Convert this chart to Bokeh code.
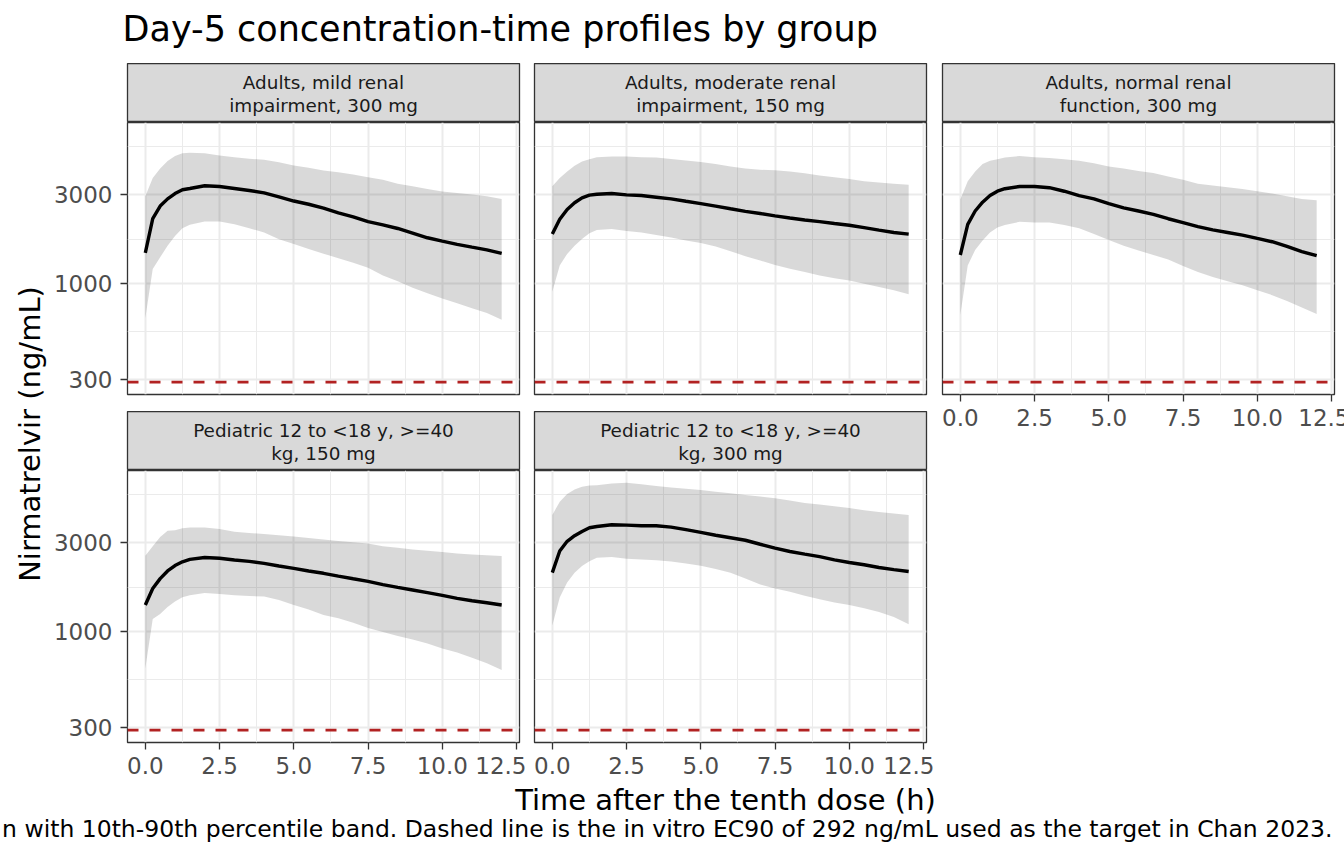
import math
from bokeh.plotting import figure
from bokeh.layouts import row, column
from bokeh.models import Range1d, FixedTicker, PrintfTickFormatter, NumeralTickFormatter, Span, ColumnDataSource
from bokeh.embed import file_html
from bokeh.resources import INLINE
from bokeh.core.properties import value

# ---------------- data ----------------
TITLE = "Day-5 concentration-time profiles by group"
X_LABEL = "Time after the tenth dose (h)"
Y_LABEL = "Nirmatrelvir (ng/mL)"
CAPTION = ("n with 10th-90th percentile band. Dashed line is the in vitro EC90 of 292 ng/mL "
           "used as the target in Chan 2023.")

GROUPS = [
    "Adults, mild renal\nimpairment, 300 mg",
    "Adults, moderate renal\nimpairment, 150 mg",
    "Adults, normal renal\nfunction, 300 mg",
    "Pediatric 12 to <18 y, >=40\nkg, 150 mg",
    "Pediatric 12 to <18 y, >=40\nkg, 300 mg",
]

TIME = [0, 0.25, 0.5, 0.75, 1.0, 1.25, 1.5, 2.0, 2.5, 3.0, 3.5, 4.0, 4.5, 5.0,
        5.5, 6.0, 6.5, 7.0, 7.5, 8.0, 8.5, 9.0, 9.5, 10.0, 10.5, 11.0, 11.5, 12.0]

MED_MILD = [1457, 2232, 2610, 2855, 3050, 3200, 3250, 3360, 3330, 3250, 3170, 3075, 2930, 2780,
            2670, 2545, 2400, 2285, 2150, 2065, 1975, 1865, 1760, 1688, 1620, 1566, 1515, 1449]
P90_MILD = [2950, 3700, 4170, 4580, 4870, 5030, 5060, 5030, 4890, 4790, 4710, 4640, 4500, 4330,
            4200, 4065, 3980, 3870, 3740, 3620, 3450, 3340, 3230, 3130, 3070, 3010, 2950, 2850]
P10_MILD = [646, 1195, 1380, 1594, 1801, 1982, 2066, 2155, 2155, 2080, 1980, 1880, 1730, 1630,
            1530, 1444, 1365, 1290, 1210, 1101, 1024, 945, 882, 827, 779, 733, 690, 634]

MED_MOD = [1842, 2213, 2503, 2720, 2890, 2990, 3025, 3050, 3000, 2975, 2915, 2855, 2770, 2690,
           2610, 2525, 2445, 2380, 2310, 2250, 2195, 2150, 2100, 2055, 1995, 1935, 1880, 1842]
P90_MOD = [3340, 3700, 4015, 4310, 4540, 4680, 4790, 4830, 4830, 4790, 4770, 4690, 4600, 4520,
           4400, 4270, 4170, 4100, 4070, 4015, 3930, 3820, 3740, 3660, 3550, 3500, 3450, 3400]
P10_MOD = [898, 1245, 1440, 1594, 1732, 1860, 1940, 1960, 1915, 1880, 1820, 1765, 1700, 1650,
           1580, 1488, 1400, 1325, 1255, 1196, 1150, 1101, 1065, 1035, 993, 954, 916, 871]

MED_NORM = [1420, 2080, 2455, 2740, 2975, 3140, 3240, 3330, 3330, 3280, 3140, 2975, 2855, 2690,
            2555, 2455, 2355, 2230, 2125, 2023, 1940, 1880, 1820, 1745, 1675, 1580, 1480, 1408]
P90_NORM = [2830, 3550, 4015, 4410, 4590, 4680, 4770, 4870, 4790, 4750, 4670, 4590, 4450, 4270,
            4170, 4040, 3935, 3775, 3620, 3450, 3370, 3300, 3230, 3140, 3050, 2950, 2850, 2810]
P10_NORM = [674, 1245, 1513, 1700, 1880, 2000, 2065, 2145, 2130, 2130, 2065, 1980, 1845, 1710,
            1594, 1500, 1420, 1342, 1240, 1150, 1080, 1024, 975, 916, 862, 802, 739, 681]

MED_PED150 = [1386, 1702, 1923, 2115, 2264, 2372, 2442, 2500, 2480, 2425, 2385, 2325, 2250, 2185,
              2115, 2055, 1985, 1920, 1860, 1785, 1725, 1670, 1615, 1560, 1505, 1460, 1425, 1385]
P90_PED150 = [2560, 2880, 3230, 3490, 3510, 3600, 3630, 3630, 3570, 3450, 3390, 3350, 3300, 3250,
              3190, 3125, 3075, 3025, 2975, 2880, 2820, 2760, 2720, 2680, 2630, 2600, 2575, 2550]
P10_PED150 = [629, 1165, 1240, 1350, 1445, 1525, 1565, 1608, 1590, 1565, 1550, 1540, 1475, 1385,
              1310, 1225, 1175, 1110, 1040, 990, 942, 903, 857, 807, 767, 719, 671, 618]

MED_PED300 = [2072, 2710, 3060, 3280, 3460, 3620, 3680, 3760, 3740, 3710, 3710, 3650, 3535, 3420,
              3300, 3200, 3100, 2950, 2810, 2695, 2610, 2530, 2430, 2350, 2285, 2210, 2150, 2100]
P90_PED300 = [4250, 5000, 5510, 5830, 6030, 6130, 6150, 6280, 6330, 6230, 6080, 5980, 5890, 5790,
              5670, 5560, 5450, 5340, 5230, 5080, 4920, 4840, 4730, 4630, 4500, 4400, 4320, 4250]
P10_PED300 = [1073, 1522, 1830, 2070, 2250, 2390, 2490, 2520, 2460, 2440, 2420, 2380, 2320, 2260,
              2170, 2070, 1925, 1790, 1700, 1635, 1555, 1490, 1430, 1385, 1330, 1270, 1195, 1090]

MEDIANS = [MED_MILD, MED_MOD, MED_NORM, MED_PED150, MED_PED300]
P90S = [P90_MILD, P90_MOD, P90_NORM, P90_PED150, P90_PED300]
P10S = [P10_MILD, P10_MOD, P10_NORM, P10_PED150, P10_PED300]

EC90 = 292
X_TICKS = [0, 2.5, 5, 7.5, 10, 12.5]
X_MINOR = [1.25, 3.75, 6.25, 8.75, 11.25]
Y_TICKS = [300, 1000, 3000]
Y_MINOR = [548, 1732, 5477]

# ---------------- styling ----------------
FONT = value("DejaVu Sans")
FONT_NAME = "DejaVu Sans"
X_RANGE = (-0.6, 12.6)
Y_RANGE = (250.4, 7383)
FW, FH, SH = 392, 272, 59
PAGE_W = 1344


def make_panel(i, show_x, show_y, mbl, mbr, mbb):
    p = figure(frame_width=FW, frame_height=FH, x_range=Range1d(*X_RANGE),
               y_range=Range1d(*Y_RANGE), y_axis_type="log", output_backend="svg",
               toolbar_location=None, title=None, min_border_left=mbl, min_border_right=mbr,
               min_border_top=0, min_border_bottom=mbb)
    p.background_fill_color = "white"
    p.border_fill_color = "white"
    p.outline_line_color = "#333333"
    p.outline_line_width = 1.3
    xt = FixedTicker(ticks=X_TICKS, minor_ticks=X_MINOR)
    yt = FixedTicker(ticks=Y_TICKS, minor_ticks=Y_MINOR)
    p.xaxis.ticker = xt
    p.yaxis.ticker = yt
    p.xgrid.ticker = xt
    p.ygrid.ticker = yt
    for g in (p.xgrid, p.ygrid):
        g.grid_line_color = "#EBEBEB"
        g.grid_line_width = 2
        g.minor_grid_line_color = "#EBEBEB"
        g.minor_grid_line_width = 1
    p.xaxis.formatter = PrintfTickFormatter(format="%.1f")
    p.yaxis.formatter = NumeralTickFormatter(format="0")
    for ax in (p.xaxis, p.yaxis):
        ax.axis_line_color = None
        ax.major_tick_line_color = "#333333"
        ax.major_tick_line_width = 1.3
        ax.major_tick_in = 0
        ax.major_tick_out = 7
        ax.minor_tick_line_color = None
        ax.major_label_text_font = FONT_NAME
        ax.major_label_text_font_size = "23px"
        ax.major_label_text_color = "#4D4D4D"
    p.xaxis.major_label_standoff = 7
    p.yaxis.major_label_standoff = 8
    p.xaxis.visible = show_x
    p.yaxis.visible = show_y
    src = ColumnDataSource(dict(t=TIME, lo=P10S[i], med=MEDIANS[i], hi=P90S[i]))
    p.varea(x="t", y1="lo", y2="hi", source=src, fill_color="black", fill_alpha=0.15)
    p.line("t", "med", source=src, line_color="black", line_width=3.4)
    p.add_layout(Span(location=EC90, dimension="width", line_color="#B22222",
                      line_width=2.6, line_dash="11 11"))
    return p


def make_strip(i, mbl, mbr):
    s = figure(frame_width=FW, frame_height=SH, x_range=Range1d(0, 1), y_range=Range1d(0, 1),
               x_axis_location=None, y_axis_location=None, toolbar_location=None,
               output_backend="svg", title=None, min_border_left=mbl, min_border_right=mbr,
               min_border_top=0, min_border_bottom=0)
    s.grid.visible = False
    s.background_fill_color = "#D9D9D9"
    s.border_fill_color = "white"
    s.outline_line_color = "#333333"
    s.outline_line_width = 1.3
    s.text(x=[0.5], y=[0.48], text=[GROUPS[i]], text_align="center", text_baseline="middle",
           text_font=FONT, text_font_size="18.4px", text_color="#1A1A1A",
           text_line_height=1.1)
    return s


def text_canvas(w, h):
    f = figure(width=w, height=h, x_range=Range1d(0, w), y_range=Range1d(h, 0),
               x_axis_location=None, y_axis_location=None, toolbar_location=None,
               output_backend="svg", title=None, min_border=0)
    f.grid.visible = False
    f.outline_line_color = None
    f.background_fill_color = "white"
    f.border_fill_color = "white"
    return f


# title
TOP_H = 63
title_fig = text_canvas(PAGE_W, TOP_H)
title_fig.text(x=[122], y=[28.3], text=[TITLE], text_align="left", text_baseline="alphabetic",
               text_font=FONT, text_font_size="35px", text_color="black")

# y label
MID_H = 719
YLAB_W = 50
ylab = text_canvas(YLAB_W, MID_H)
ylab.text(x=[29.5], y=[370.5], text=[Y_LABEL], angle=math.pi / 2, text_align="center",
          text_baseline="alphabetic", text_font=FONT, text_font_size="29px", text_color="black")

col1 = column(make_strip(0, 72, 7), make_panel(0, False, True, 72, 7, 17),
              make_strip(3, 72, 7), make_panel(3, True, True, 72, 7, 40), spacing=0)
col2 = column(make_strip(1, 8, 8), make_panel(1, False, False, 8, 8, 17),
              make_strip(4, 8, 8), make_panel(4, True, False, 8, 8, 40), spacing=0)
col3 = column(make_strip(2, 8, 15), make_panel(2, True, False, 8, 15, MID_H - SH - FH), spacing=0)
mid = row(ylab, col1, col2, col3, spacing=0)

BOT_H = 81
bottom = text_canvas(PAGE_W, BOT_H)
bottom.text(x=[725], y=[17.5], text=[X_LABEL], text_align="center", text_baseline="alphabetic",
            text_font=FONT, text_font_size="29px", text_color="black")
bottom.text(x=[1332], y=[46.5], text=[CAPTION], text_align="right", text_baseline="alphabetic",
            text_font=FONT, text_font_size="23.5px", text_color="black")

page = column(title_fig, mid, bottom, spacing=0)

open("out.html", "w").write(file_html(page, INLINE))
